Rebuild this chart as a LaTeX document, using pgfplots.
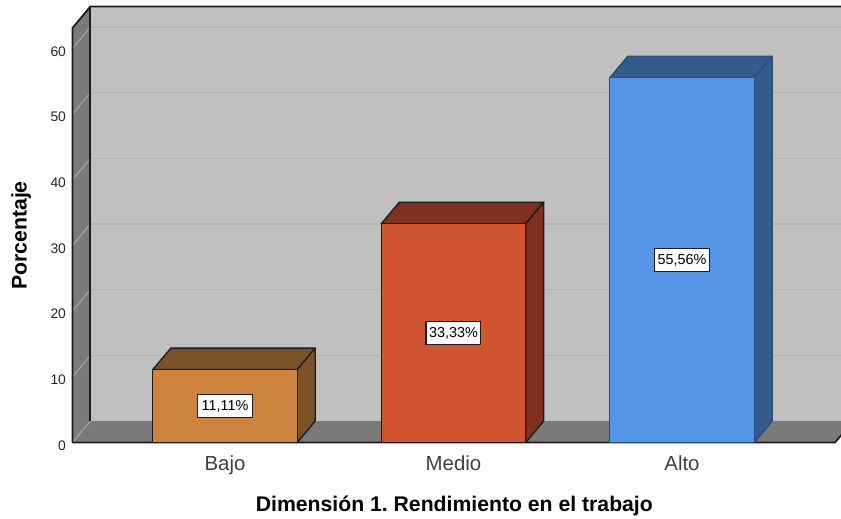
\documentclass[border=0pt]{standalone}
\usepackage{pgfplots}
\usepackage{fontspec}
\setmainfont{Liberation Sans}
\pgfplotsset{compat=1.18}
\definecolor{wall}{HTML}{C0C0C0}
\definecolor{side}{HTML}{7A7A7A}
\definecolor{gridb}{HTML}{B5B5B5}
\definecolor{gridl}{HTML}{A3A3A3}
\definecolor{edge}{HTML}{1C1C1C}
\definecolor{bajoF}{HTML}{CC843F}
\definecolor{bajoD}{HTML}{7B5128}
\definecolor{medioF}{HTML}{D05430}
\definecolor{medioD}{HTML}{81301F}
\definecolor{altoF}{HTML}{5595E5}
\definecolor{altoD}{HTML}{335B8C}
\definecolor{altoE}{HTML}{2A4C76}
% Depth of the box: dx in category units, dy in percentage units
\def\dx{0.0788}
\def\dy{3.27}
% Half a bar width in category units
\def\hw{0.316}
\newcommand{\boxfaces}[4]{%
  % top and right side of a bar at category #1, height #2, fill #3, outline #4
  \addplot[fill=#3,draw=#4,line width=1pt,line join=round] coordinates
    {({#1-\hw},#2) ({#1-\hw+\dx},{#2+\dy}) ({#1+\hw+\dx},{#2+\dy}) ({#1+\hw},#2)} --cycle;
  \addplot[fill=#3,draw=#4,line width=1pt,line join=round] coordinates
    {({#1+\hw},0) ({#1+\hw+\dx},\dy) ({#1+\hw+\dx},{#2+\dy}) ({#1+\hw},#2)} --cycle;
}
\begin{document}
\frenchspacing
\begin{tikzpicture}[x=0.75pt,y=0.75pt]
\useasboundingbox (0,0) rectangle (841,518);
\begin{axis}[
  at={(52.5pt,55.1pt)},
  anchor=south west,
  x=171.375pt, y=4.925pt,
  xmin=-0.6783, xmax=2.6958,
  ymin=-0.3, ymax=66.6,
  scale only axis,
  axis line style={draw=none},
  major tick length=0pt,
  xtick={0,1,2},
  xticklabels={Bajo,Medio,Alto},
  ytick={0,10,20,30,40,50,60},
  /pgf/number format/assume math mode=true,
  xticklabel style={font=\fontsize{15.3pt}{17pt}\selectfont,text=black!75,yshift=-5pt},
  yticklabel style={font=\fontsize{10.4pt}{12pt}\selectfont,text=black!85,xshift=0.5pt,yshift=-2pt},
  xlabel={\textbf{Dimensión 1. Rendimiento en el trabajo}},
  xlabel style={font=\fontsize{15.9pt}{17pt}\selectfont,at={(axis description cs:0.4985,-0.1400)},anchor=center},
  ylabel={\textbf{Porcentaje}},
  ylabel style={font=\fontsize{15.9pt}{17pt}\selectfont,at={(axis description cs:-0.0635,0.476)},anchor=center},
  clip=true,
]
% back wall
\addplot[fill=wall,draw=none] coordinates {(-0.5895,3.27) (2.85,3.27) (2.85,66.4) (-0.5895,66.4)} --cycle;
% back wall gridlines
\addplot[gridb,line width=1.1pt] coordinates {(-0.5895,13.27) (2.85,13.27)};
\addplot[gridb,line width=1.1pt] coordinates {(-0.5895,23.27) (2.85,23.27)};
\addplot[gridb,line width=1.1pt] coordinates {(-0.5895,33.27) (2.85,33.27)};
\addplot[gridb,line width=1.1pt] coordinates {(-0.5895,43.27) (2.85,43.27)};
\addplot[gridb,line width=1.1pt] coordinates {(-0.5895,53.27) (2.85,53.27)};
\addplot[gridb,line width=1.1pt] coordinates {(-0.5895,63.27) (2.85,63.27)};
% floor and left wall
\addplot[fill=side,draw=none] coordinates {(-0.6674,0) (-0.5895,3.27) (2.7484,3.27) (2.6696,0)} --cycle;
\addplot[fill=side,draw=none] coordinates {(-0.6674,0) (-0.5895,3.27) (-0.5895,66.4) (-0.6674,63.13)} --cycle;
% gridlines carried across the left wall
\addplot[gridl,line width=0.9pt] coordinates {(-0.6674,0) (-0.5895,3.27)};
\addplot[gridl,line width=0.9pt] coordinates {(-0.6674,10) (-0.5895,13.27)};
\addplot[gridl,line width=0.9pt] coordinates {(-0.6674,20) (-0.5895,23.27)};
\addplot[gridl,line width=0.9pt] coordinates {(-0.6674,30) (-0.5895,33.27)};
\addplot[gridl,line width=0.9pt] coordinates {(-0.6674,40) (-0.5895,43.27)};
\addplot[gridl,line width=0.9pt] coordinates {(-0.6674,50) (-0.5895,53.27)};
\addplot[gridl,line width=0.9pt] coordinates {(-0.6674,60) (-0.5895,63.27)};
% frame edges
\addplot[edge,line width=1.3pt] coordinates {(-0.6674,0) (-0.6674,63.13) (-0.5895,66.4) (2.85,66.4)};
\addplot[edge,line width=1.3pt] coordinates {(-0.5895,3.27) (-0.5895,66.4)};
\addplot[edge,line width=1.3pt] coordinates {(-0.6674,0) (2.6696,0) (2.7484,3.27)};
% bars
\boxfaces{0}{11.11}{bajoD}{edge}
\boxfaces{1}{33.33}{medioD}{edge}
\boxfaces{2}{55.56}{altoD}{altoE}
\addplot[ybar,bar shift=0pt,bar width=108.4pt,fill=bajoF,draw=edge,line width=1pt] coordinates {(0,11.11)};
\addplot[ybar,bar shift=0pt,bar width=108.4pt,fill=medioF,draw=edge,line width=1pt] coordinates {(1,33.33)};
\addplot[ybar,bar shift=0pt,bar width=108.4pt,fill=altoF,draw=altoE,line width=1pt] coordinates {(2,55.56)};
% value labels at mid height
\tikzset{vlab/.style={fill=white,draw=edge,line width=1pt,inner sep=0pt,minimum width=41pt,minimum height=17.5pt,font=\fontsize{10.8pt}{12pt}\selectfont}}
\node[vlab] at (axis cs:0,5.555) {11,11\%};
\node[vlab] at (axis cs:1,16.665) {33,33\%};
\node[vlab] at (axis cs:2,27.78) {55,56\%};
\end{axis}
\end{tikzpicture}
\end{document}
